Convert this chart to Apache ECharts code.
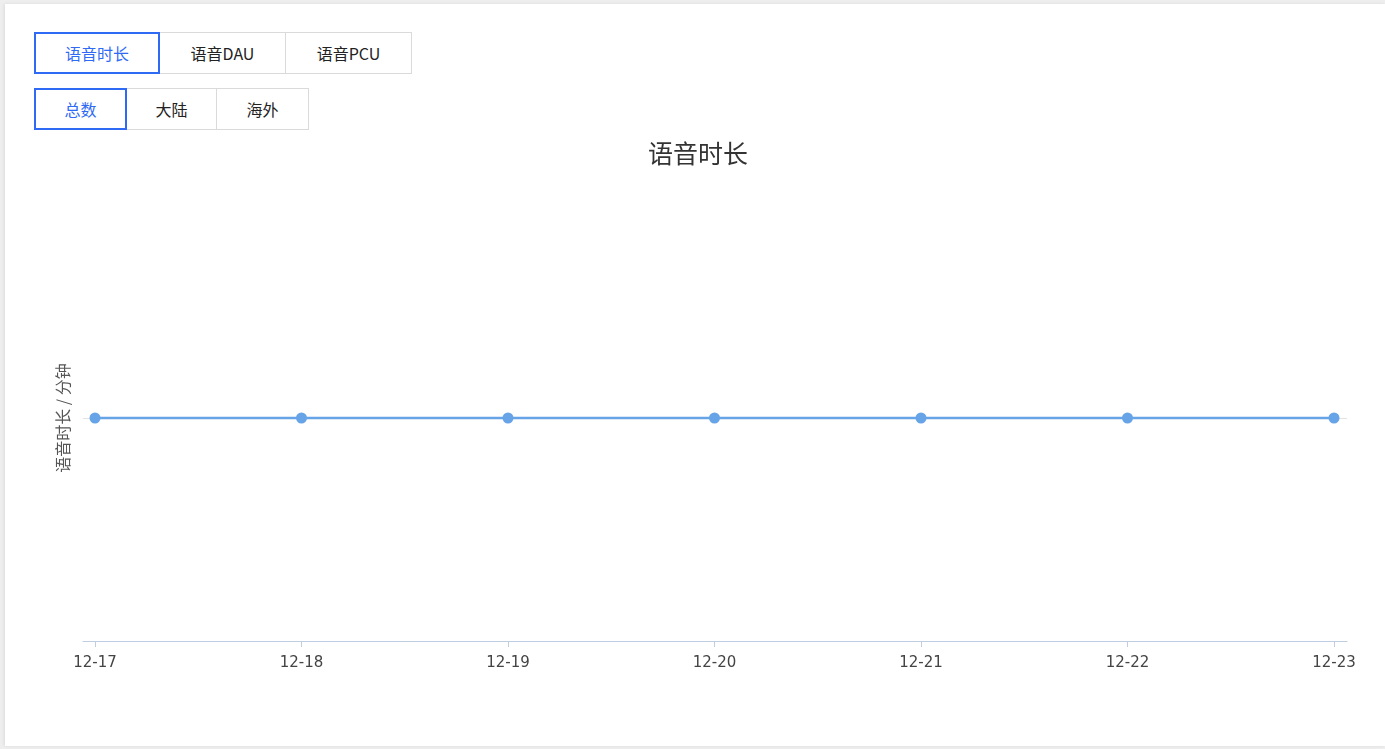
<!DOCTYPE html>
<html lang="zh-cn">
<head>
<meta charset="utf-8">
<title>语音时长</title>
<script src="https://cdn.jsdelivr.net/npm/echarts@6/dist/echarts.min.js"></script>
<style type="text/css">
body { margin: 0; background: #eeeeee; font-family: "Noto Sans CJK SC", "Noto Sans", sans-serif; }
.card {
    position: absolute; left: 5px; top: 4px; right: 0; bottom: 3px;
    background: #fff; box-shadow: -1px 0 3px rgba(0,0,0,0.08);
}
#main { position: absolute; left: 0; top: 0; width: 1385px; height: 749px; }
.btns { position: absolute; display: flex; z-index: 2; }
.btns span {
    display: block; box-sizing: border-box; height: 42px; line-height: 40px;
    text-align: center; font-size: 16px; color: #222;
    border: 1px solid #dadada; margin-left: -1px; background: #fff;
}
.btns span.on { border: 2px solid #2f6af5; color: #2f6af5; line-height: 38px; position: relative; z-index: 1; }
</style>
</head>
<body>
<div class="card"></div>
<div id="main"></div>
<div class="btns" style="left:34px;top:32px">
    <span class="on" style="width:126px;margin-left:0">语音时长</span>
    <span style="width:127px">语音DAU</span>
    <span style="width:127px">语音PCU</span>
</div>
<div class="btns" style="left:34px;top:88px">
    <span class="on" style="width:93px;margin-left:0">总数</span>
    <span style="width:91px">大陆</span>
    <span style="width:93px">海外</span>
</div>
<script type="text/javascript">
// 数据
var days = ['12-17', '12-18', '12-19', '12-20', '12-21', '12-22', '12-23'];
var voiceMinutes = [0, 0, 0, 0, 0, 0, 0];
var chartTitle = '语音时长';
var yName = '语音时长 / 分钟';

var myChart = echarts.init(document.getElementById('main'));
var option = {
    title: {
        text: chartTitle,
        left: 643,
        top: 136,
        textStyle: { fontSize: 25, fontWeight: 'normal', color: '#333', fontFamily: 'Noto Sans CJK SC' }
    },
    // grid 0: full-width frame (axis line + zero line), grid 1: data area
    grid: [
        { left: 83, right: 38, top: 195, bottom: 108 },
        { left: 95, right: 51, top: 195, bottom: 108 }
    ],
    xAxis: [
        {
            type: 'value', gridIndex: 0, min: 0, max: 1,
            axisLine: { show: true, onZero: false, lineStyle: { color: '#bfcde2', width: 1 } },
            axisTick: { show: false }, axisLabel: { show: false }, splitLine: { show: false }
        },
        {
            type: 'category', gridIndex: 1, boundaryGap: false, data: days,
            axisLine: { show: true, onZero: false, lineStyle: { color: '#bfcde2', width: 1 } },
            axisTick: { show: true, length: 6, lineStyle: { color: '#bfcde2' } },
            axisLabel: { color: '#444', fontSize: 15, margin: 15, fontFamily: 'DejaVu Sans' },
            splitLine: { show: false }
        }
    ],
    yAxis: [
        {
            type: 'value', gridIndex: 0, min: -1, max: 1, interval: 1,
            axisLine: { show: false }, axisTick: { show: false }, axisLabel: { show: false },
            splitLine: { show: true, showMinLine: false, showMaxLine: false, lineStyle: { color: '#e2e2e2' } }
        },
        {
            type: 'value', gridIndex: 1, min: -1, max: 1, interval: 1,
            name: yName, nameLocation: 'middle', nameGap: 24,
            nameTextStyle: { color: '#555', fontSize: 16, fontFamily: 'Noto Sans CJK SC' },
            axisLine: { show: false }, axisTick: { show: false }, axisLabel: { show: false },
            splitLine: { show: false }
        }
    ],
    series: [
        {
            name: chartTitle,
            type: 'line',
            xAxisIndex: 1,
            yAxisIndex: 1,
            data: voiceMinutes,
            symbol: 'circle',
            symbolSize: 11,
            itemStyle: { color: '#67a3e7' },
            lineStyle: { color: '#67a3e7', width: 2.5 }
        }
    ]
};
myChart.setOption(option);
</script>
</body>
</html>
